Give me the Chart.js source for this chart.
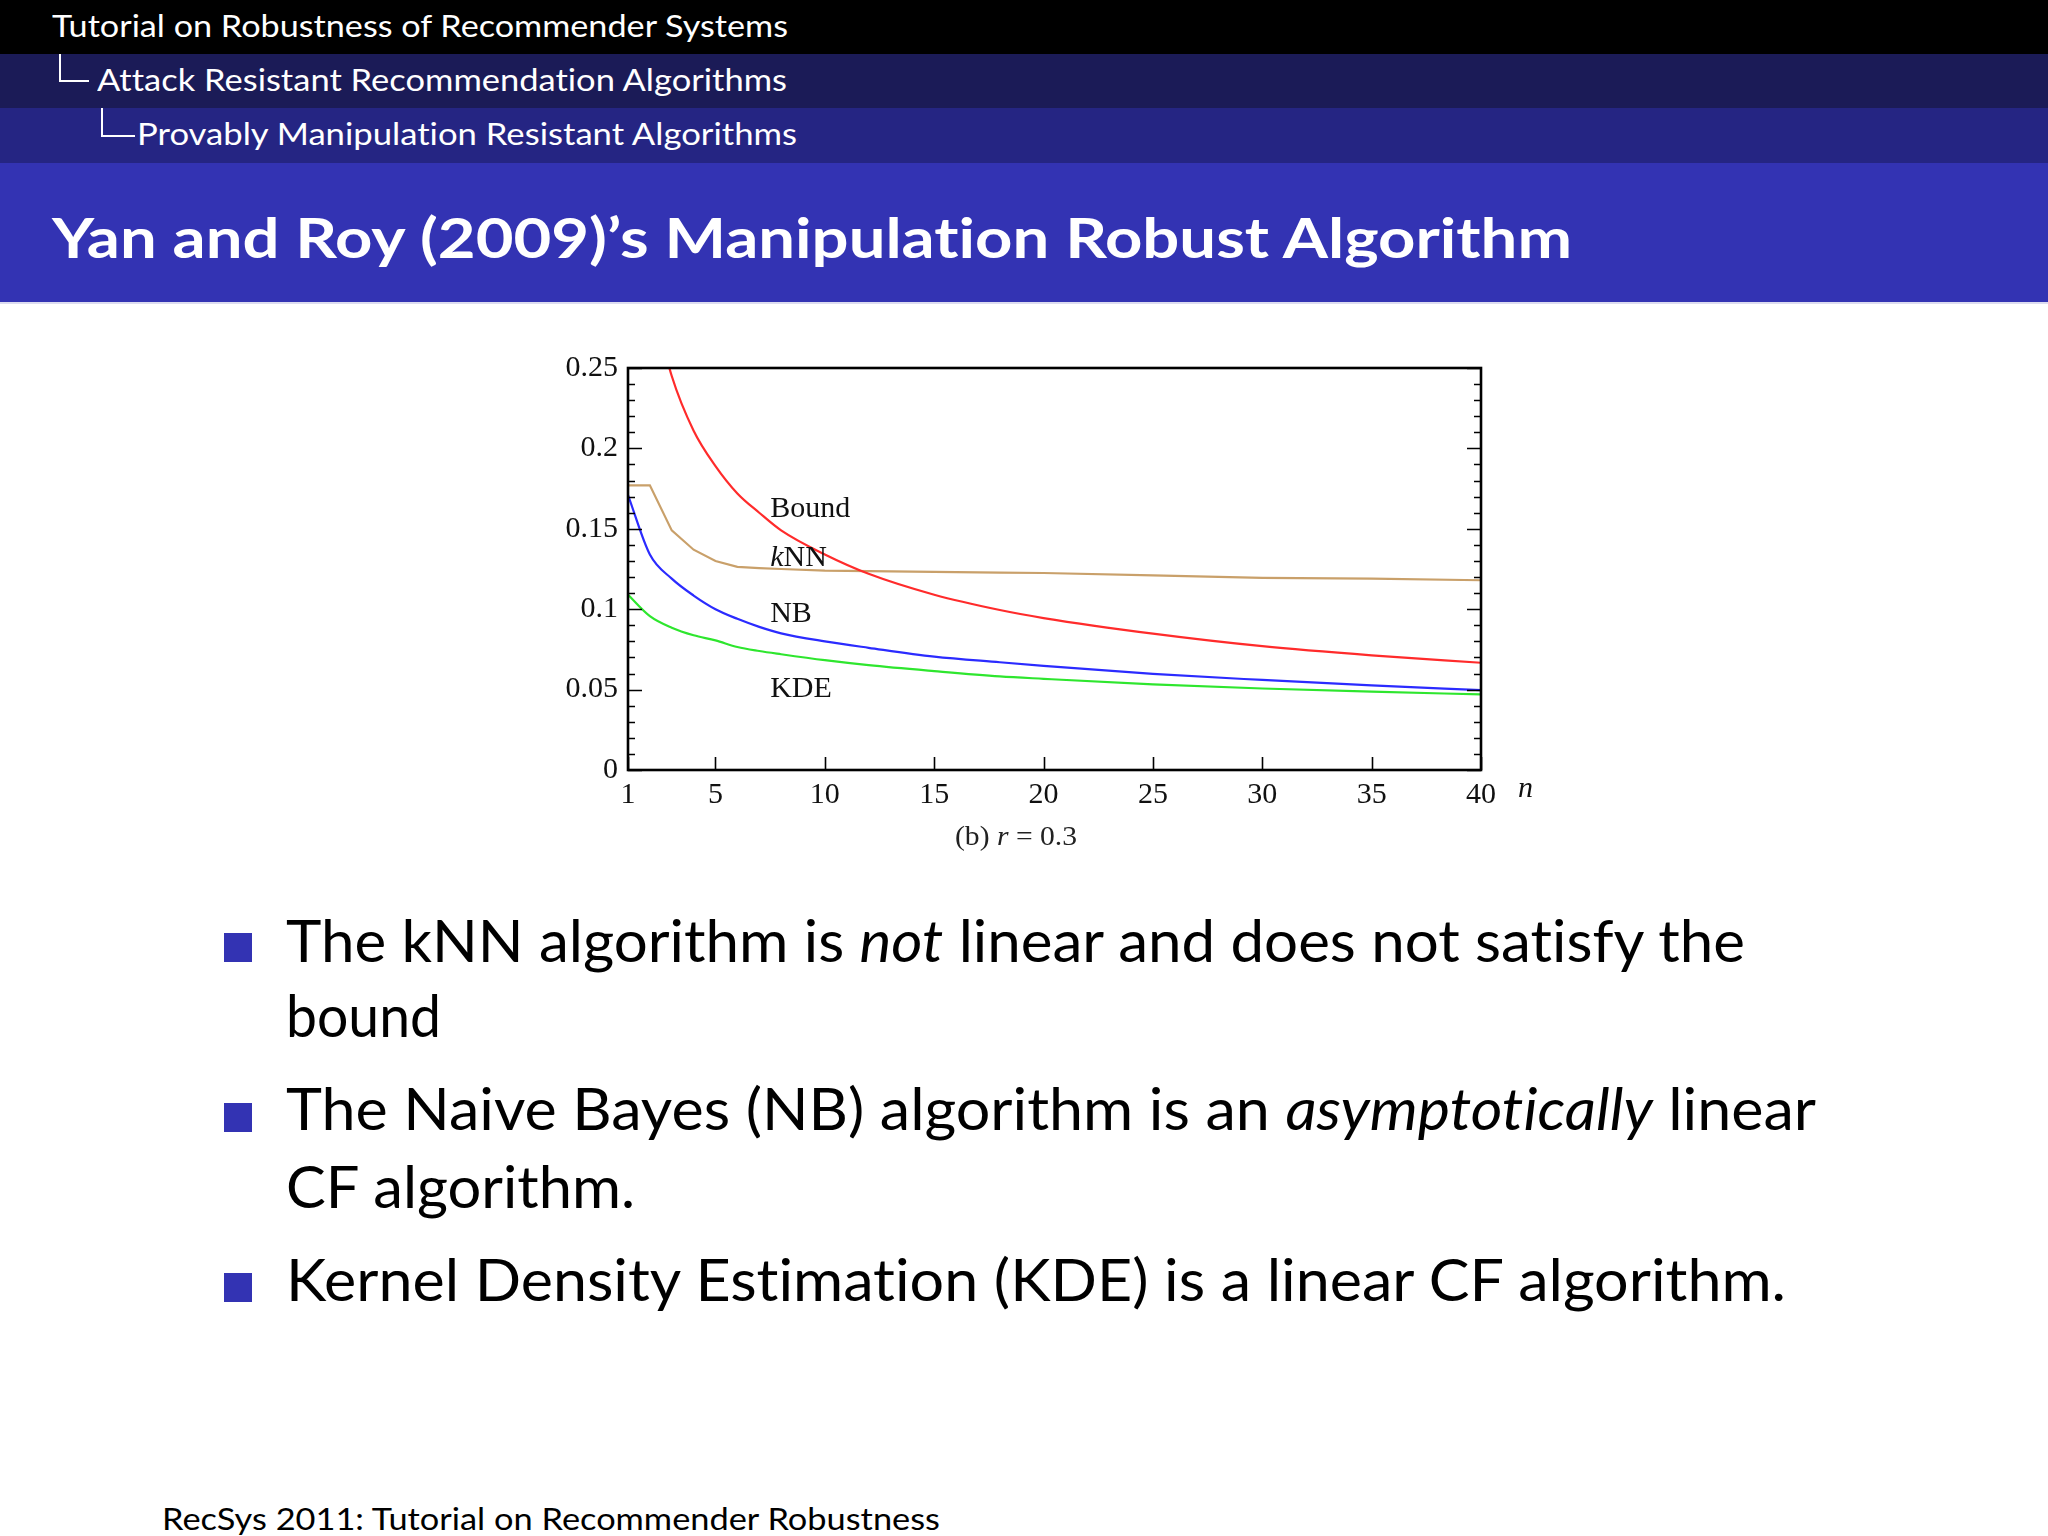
<!DOCTYPE html>
<html><head><meta charset="utf-8">
<script src="https://cdn.jsdelivr.net/npm/chart.js@4.4.1/dist/chart.umd.min.js"></script>
<style>
html,body{margin:0;padding:0;background:#fff;}
#slide{position:relative;width:2048px;height:1536px;overflow:hidden;background:#fff;font-family:Lato,"Open Sans",sans-serif;font-variant-ligatures:none;}
.band{position:absolute;left:0;width:2048px;}
.t{position:absolute;white-space:nowrap;transform-origin:0 0;line-height:1.2;}
.hd{color:#fff;font-size:30px;}
.title{color:#fff;font-size:56px;font-weight:bold;}
.body{color:#000;font-size:58px;}
.foot{color:#000;font-size:30px;}
.cap{color:#222;font-size:28px;font-family:"Liberation Serif","DejaVu Serif",serif;}
.conn{position:absolute;border-left:2px solid #fff;border-bottom:2px solid #fff;}
.bul{position:absolute;width:28px;height:29px;background:#3333b3;}
#chartBox{position:absolute;left:500px;top:330px;width:1060px;height:520px;}
</style></head>
<body><div id="slide">
<div class="band" style="top:0;height:54px;background:#000"></div>
<div class="band" style="top:54px;height:54px;background:#1b1b57"></div>
<div class="band" style="top:108px;height:55px;background:#252583"></div>
<div class="band" style="top:163px;height:139px;background:#3333b3"></div>
<div class="band" style="top:302px;height:2px;background:#dcdcf0"></div>

<div class="t hd" data-x="52" data-b="37" data-w="736">Tutorial on Robustness of Recommender Systems</div>
<div class="conn" style="left:59px;top:54px;width:28px;height:26px"></div>
<div class="t hd" data-x="97" data-b="91" data-w="690">Attack Resistant Recommendation Algorithms</div>
<div class="conn" style="left:101px;top:108px;width:32px;height:27px"></div>
<div class="t hd" data-x="137" data-b="145" data-w="660">Provably Manipulation Resistant Algorithms</div>
<div class="t title" data-x="52" data-b="258" data-w="1520">Yan and Roy (2009)’s Manipulation Robust Algorithm</div>

<div id="chartBox"><canvas id="c" width="1060" height="520"></canvas></div>
<div class="t cap" data-x="955" data-b="845" data-w="122">(b) <i>r</i> = 0.3</div>

<div class="bul" style="left:224px;top:933px"></div>
<div class="t body" data-x="286" data-b="962" data-w="1459">The kNN algorithm is <i>not</i> linear and does not satisfy the</div>
<div class="t body" data-x="286" data-b="1037" data-w="155">bound</div>
<div class="bul" style="left:224px;top:1103px"></div>
<div class="t body" data-x="286" data-b="1130" data-w="1530">The Naive Bayes (NB) algorithm is an <i>asymptotically</i> linear</div>
<div class="t body" data-x="286" data-b="1208" data-w="349">CF algorithm.</div>
<div class="bul" style="left:224px;top:1273px"></div>
<div class="t body" data-x="286" data-b="1301" data-w="1500">Kernel Density Estimation (KDE) is a linear CF algorithm.</div>

<div class="t foot" data-x="162" data-b="1530" data-w="778">RecSys 2011: Tutorial on Recommender Robustness</div>
</div>
<script>
// ---- data ----
const nValues     = [1, 2, 3, 4, 5, 6, 7, 8, 10, 12, 15, 18, 20, 25, 30, 35, 40];
const boundValues = [null, 0.298, 0.245, 0.211, 0.189, 0.172, 0.160, 0.149, 0.134, 0.122, 0.109, 0.0995, 0.0945, 0.0848, 0.0770, 0.0713, 0.0667];
const knnValues   = [0.177, 0.177, 0.149, 0.137, 0.130, 0.1263, 0.1255, 0.1250, 0.1240, 0.1237, 0.1232, 0.1228, 0.1225, 0.1210, 0.1195, 0.1190, 0.1180];
const nbValues    = [0.171, 0.134, 0.119, 0.1085, 0.100, 0.094, 0.089, 0.085, 0.080, 0.076, 0.0705, 0.0670, 0.0648, 0.0598, 0.0560, 0.0526, 0.0497];
const kdeValues   = [0.109, 0.0957, 0.0885, 0.0838, 0.0806, 0.0765, 0.0740, 0.0720, 0.0683, 0.0652, 0.0615, 0.0582, 0.0567, 0.0533, 0.0507, 0.0487, 0.0470];
const xTickValues = [1, 5, 10, 15, 20, 25, 30, 35, 40];
const yTickValues = [0, 0.05, 0.1, 0.15, 0.2, 0.25];
const yTickLabels = ['0', '0.05', '0.1', '0.15', '0.2', '0.25'];
const seriesNames = ['Bound', 'kNN', 'NB', 'KDE'];
const labelAnchorN = 7.5;
const labelAnchorValues = [0.1623, 0.1315, 0.0967, 0.0503];
const yMinorStep = 0.01;

// ---- text placement (real HTML text) ----
document.querySelectorAll('.t').forEach(el => {
  const bl = document.createElement('span');
  bl.style.cssText = 'display:inline-block;width:0;height:0;vertical-align:baseline';
  el.appendChild(bl);
  el.style.left = el.dataset.x + 'px';
  el.style.top = '0px';
  const off = bl.offsetTop;
  el.style.top = (parseFloat(el.dataset.b) - off) + 'px';
  if (el.dataset.w) {
    const w = el.getBoundingClientRect().width;
    el.style.transform = 'scaleX(' + (parseFloat(el.dataset.w) / w) + ')';
  }
});

// ---- chart ----
const serif = '"Liberation Serif", "DejaVu Serif", serif';
function pts(arr) {
  return nValues.map((n, i) => ({x: n, y: arr[i]})).filter(p => p.y !== null);
}
const frame = {
  id: 'frame',
  afterDatasetsDraw(chart) {
    const {ctx, chartArea: a, scales: {x, y}} = chart;
    ctx.save();
    ctx.strokeStyle = '#000';
    ctx.lineWidth = 1.6;
    ctx.beginPath();
    const steps = Math.round((y.max - y.min) / yMinorStep);
    for (let k = 0; k <= steps; k++) {
      const v = y.min + k * yMinorStep;
      const py = Math.round(y.getPixelForValue(v)) + 0.5;
      const L = (k % 5 === 0) ? 14 : 7;
      ctx.moveTo(a.left, py); ctx.lineTo(a.left + L, py);
      ctx.moveTo(a.right, py); ctx.lineTo(a.right - L, py);
    }
    xTickValues.forEach(v => {
      const px = Math.round(x.getPixelForValue(v)) + 0.5;
      ctx.moveTo(px, a.bottom); ctx.lineTo(px, a.bottom - 13);
    });
    ctx.stroke();
    ctx.lineWidth = 2.6;
    ctx.strokeRect(a.left, a.top, a.right - a.left, a.bottom - a.top);
    // series labels
    ctx.fillStyle = '#111';
    ctx.textBaseline = 'middle';
    ctx.textAlign = 'left';
    seriesNames.forEach((name, i) => {
      const px = x.getPixelForValue(labelAnchorN);
      const py = y.getPixelForValue(labelAnchorValues[i]);
      if (name === 'kNN') {
        ctx.font = 'italic 30px ' + serif;
        ctx.fillText('k', px, py);
        const w = ctx.measureText('k').width;
        ctx.font = '30px ' + serif;
        ctx.fillText('NN', px + w, py);
      } else {
        ctx.font = '30px ' + serif;
        ctx.fillText(name, px, py);
      }
    });
    // axis variable
    ctx.font = 'italic 30px ' + serif;
    ctx.textBaseline = 'alphabetic';
    ctx.fillText('n', a.right + 37, a.bottom + 27);
    ctx.restore();
  }
};

new Chart(document.getElementById('c'), {
  type: 'line',
  data: {
    datasets: [
      {label: seriesNames[0], data: pts(boundValues), borderColor: '#ff2b2b', cubicInterpolationMode: 'monotone'},
      {label: seriesNames[1], data: pts(knnValues), borderColor: '#c9a06a', tension: 0},
      {label: seriesNames[2], data: pts(nbValues), borderColor: '#2b2bff', cubicInterpolationMode: 'monotone'},
      {label: seriesNames[3], data: pts(kdeValues), borderColor: '#2ee62e', cubicInterpolationMode: 'monotone'}
    ]
  },
  options: {
    responsive: false,
    animation: false,
    devicePixelRatio: 1,
    elements: {line: {borderWidth: 2.2}, point: {radius: 0}},
    layout: {padding: {left: 0, top: 38, right: 79, bottom: 0}},
    plugins: {legend: {display: false}, tooltip: {enabled: false}},
    scales: {
      x: {
        type: 'linear', min: 1, max: 40,
        afterBuildTicks: s => { s.ticks = xTickValues.map(v => ({value: v})); },
        afterFit: s => { s.height = 80; },
        grid: {display: false, drawTicks: false},
        border: {display: false},
        ticks: {autoSkip: false, maxRotation: 0, padding: 7, color: '#111',
                font: {family: serif, size: 30}, callback: v => String(v)}
      },
      y: {
        min: 0, max: 0.25,
        afterBuildTicks: s => { s.ticks = yTickValues.map(v => ({value: v})); },
        afterFit: s => { s.width = 128; },
        grid: {display: false, drawTicks: false},
        border: {display: false},
        ticks: {autoSkip: false, padding: 10, color: '#111',
                font: {family: serif, size: 30},
                callback: (v, i) => yTickLabels[i]}
      }
    }
  },
  plugins: [frame]
});
</script>
</body></html>
